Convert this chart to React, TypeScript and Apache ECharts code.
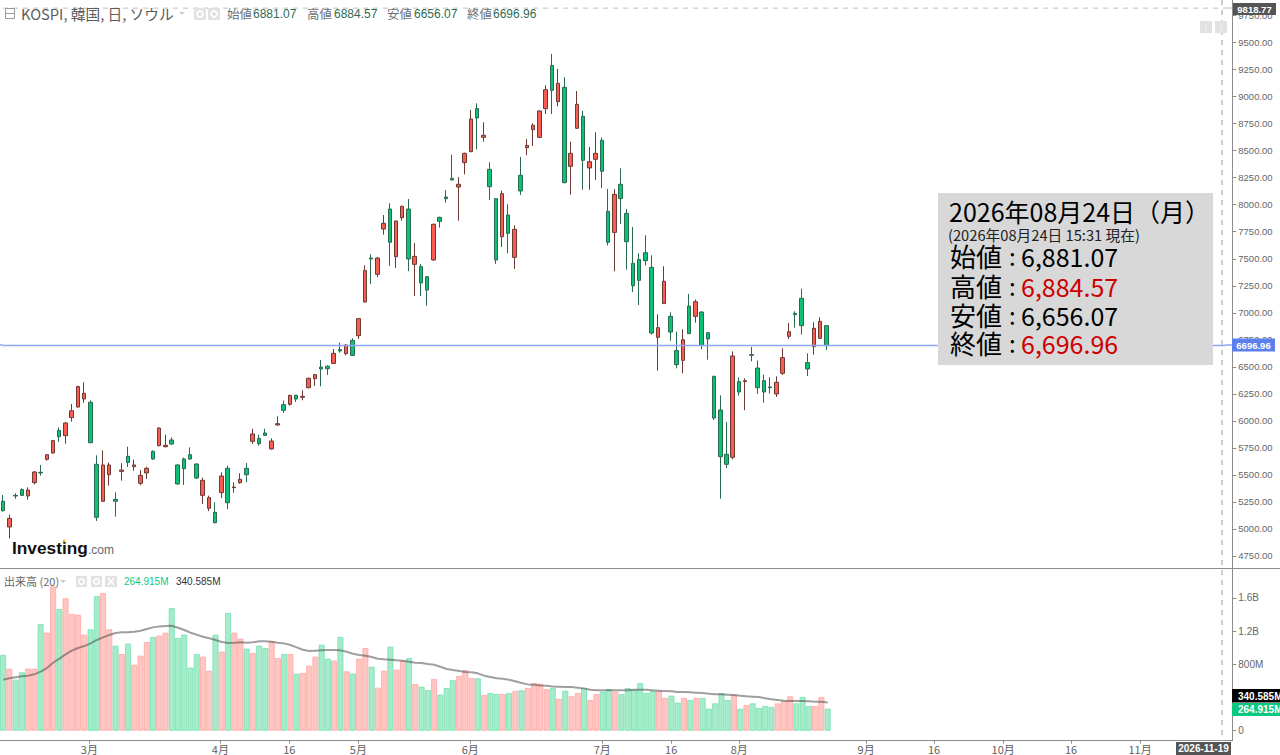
import React, { useEffect, useRef } from "react";
import * as echarts from "echarts";

const opens = [5256,5018,5311,5364,5305,5428,5524,5644,5703,5912,5863,6030,6128,6202,6172,5598,5256,5502,5274,5533,5672,5576,5422,5518,5718,5771,5761,5823,5592,5647,5687,5601,5311,5191,5154,5336,5561,5382,5428,5561,5811,5838,5888,5740,5962,6150,6153,6236,6218,6307,6391,6498,6505,6532,6659,6622,6745,6788,7100,7507,7356,7775,7960,7519,7880,7960,7448,7427,7334,7489,7883,8071,8244,8164,8389,8491,8889,8623,8327,8056,7704,7905,7513,8272,8528,8694,8623,8889,9287,8954,9086,8355,8707,8818,8340,8420,8596,7939,7744,8189,7920,7458,7492,7556,7421,6773,7085,6967,6650,6560,7063,6967,7007,6816,6412,6101,5691,5663,6363,6363,6613,6489,6372,6314,6249,6440,6782,6995,7134,6539,6687,6764,6881.07];
const closes = [5169,5098,5305,5311,5360,5527,5518,5687,5817,5854,5980,6094,6317,6255,5798,5108,5592,5592,5256,5545,5616,5592,5496,5561,5647,5934,5774,5786,5416,5558,5647,5472,5450,5290,5058,5490,5243,5388,5459,5502,5879,5789,5866,5814,5974,6098,6236,6202,6227,6394,6428,6480,6483,6625,6647,6702,6606,6946,7390,7498,7507,7828,7652,7849,7985,7498,7522,7276,7211,7819,7846,8056,8229,8189,8475,8793,8802,8642,8167,7489,8102,7735,7772,8127,8549,8735,8867,9064,9058,9123,8204,8475,8929,8411,8398,8475,8309,7652,8096,8056,7658,7251,7300,7482,6813,6862,7291,6822,6520,6751,6807,7103,6699,6758,6027,5669,5598,6600,6267,6372,6607,6307,6267,6307,6357,6585,6825,6983,6881,6480,6856,6921,6696.96];
const lows = [5160,4913,5280,5305,5271,5413,5493,5632,5697,5805,5789,5993,6122,6168,5792,5074,5249,5401,5114,5447,5573,5539,5404,5462,5641,5764,5755,5777,5410,5407,5641,5462,5231,5166,5052,5286,5182,5336,5419,5434,5786,5771,5860,5734,5956,6073,6141,6175,6190,6301,6323,6320,6425,6529,6631,6606,6600,6758,7094,7266,7328,7723,7433,7415,7852,7384,7155,7155,7066,7482,7788,8019,8226,7852,8281,8485,8512,8583,8044,7452,7609,7550,7405,8090,8457,8543,8617,8839,8839,8910,8198,8093,8701,8139,8139,8229,8155,7624,7384,7822,7399,7192,7072,7439,6798,6465,7082,6742,6486,6440,6804,6909,6662,6566,6008,5280,5564,5644,6233,6098,6551,6249,6169,6252,6221,6425,6758,6862,6798,6415,6613,6758,6656.07];
const highs = [5314,5132,5330,5376,5385,5536,5592,5694,5823,5940,5990,6156,6326,6357,6190,5681,5727,5616,5339,5607,5761,5641,5545,5576,5727,5940,5872,5848,5598,5660,5755,5607,5475,5308,5246,5524,5586,5431,5515,5610,5928,5872,5928,5838,6042,6187,6242,6242,6283,6400,6434,6563,6514,6665,6724,6711,6764,6952,7439,7541,7516,7905,8013,7856,7991,8053,7646,7452,7340,7825,7889,8136,8463,8256,8482,8876,8938,8762,8392,8062,8130,8004,7809,8442,8608,8753,8873,9105,9395,9256,9179,8583,9052,8867,8534,8670,8623,8145,8145,8337,7960,7794,7550,7717,7532,6986,7430,7004,6826,6847,7174,7122,7014,6822,6418,6236,5990,6643,6403,6394,6684,6560,6428,6403,6412,6671,6906,7014,7223,6625,6912,6958,6884.57];
const volumes = [912,747,615,703,747,747,1285,1181,1739,1466,1595,1406,1398,1157,1221,1623,1659,1221,1024,924,1048,795,904,1069,1129,1145,1181,1478,1117,1157,759,924,892,723,1157,952,1418,1181,1109,988,936,1024,996,1077,876,924,924,687,695,783,892,1036,868,844,1129,715,687,868,996,771,518,723,1012,735,844,876,562,530,490,623,434,514,611,659,731,635,631,430,454,442,442,454,478,486,514,574,566,502,514,382,482,414,454,510,370,442,470,502,470,442,514,494,574,454,478,478,394,422,337,394,370,394,394,265,329,450,370,430,265,309,329,273,297,285,329,358,414,329,406,297,297,406,264.915];
const volumeMA = [615,631,643,655,663,679,711,755,819,868,920,964,996,1020,1052,1093,1125,1153,1177,1185,1185,1193,1205,1225,1245,1257,1261,1265,1241,1213,1181,1157,1133,1113,1093,1069,1056,1060,1065,1060,1065,1077,1077,1073,1060,1052,1032,1004,976,960,964,968,972,972,968,952,928,912,904,888,868,860,856,848,844,832,819,815,803,795,771,743,731,719,707,703,691,663,647,631,627,615,595,574,558,554,546,542,534,530,526,526,518,510,494,486,486,486,486,486,486,494,494,494,486,482,478,474,466,466,462,458,454,446,438,438,434,430,422,414,410,406,390,378,370,362,358,358,358,354,349,349,340.585];

const categories = Array.from({ length: 197 }, (_, i) => String(i));
const priceTicks = [4750,5000,5250,5500,5750,6000,6250,6500,6750,7000,7250,7500,7750,8000,8250,8500,8750,9000,9250,9500,9750];
const volumeTicks = [0,800,1200,1600];
const xTickValues = [13.81,34.78,45.82,56.87,74.79,95.92,106.96,117.85,138.17,149.05,160.1,170.98,182.03];
const xTickLabels = ["3月","4月","16","5月","6月","7月","16","8月","9月","16","10月","16","11月"];

const LAST_PRICE = 6696.96;
const HIGH_MARK = 9818.77;
const SANS = "'Liberation Sans','Noto Sans CJK JP',sans-serif";
const JP = "'Noto Sans CJK JP','Liberation Sans',sans-serif";
const RED = "#f85d52", GREEN = "#0cc074";

function txt(x: number, y: number, text: string, fontSize: number, fill: string, extra: any = {}) {
  return {
    type: "text", x, y, z: 100, silent: true,
    style: {
      text, fontSize, fill, fontFamily: extra.family || SANS, fontWeight: extra.weight || "normal",
      align: extra.align || "left", verticalAlign: "middle",
      textAlign: extra.align || "left", textVerticalAlign: "middle",
    },
  };
}
function box(x: number, y: number, w: number, h: number, fill: string, z = 100) {
  return { type: "rect", z, silent: true, shape: { x, y, width: w, height: h }, style: { fill } };
}
function hv(x1: number, y1: number, x2: number, y2: number, stroke: string, lineWidth = 1, lineDash?: number[]) {
  return { type: "line", z: 90, silent: true, shape: { x1, y1, x2, y2 }, style: { stroke, lineWidth, lineDash } };
}
function iconBox(x: number, y: number, s: number) {
  return [
    box(x, y, s, s, "#e2e2e2"),
    { type: "ring", z: 101, silent: true, shape: { cx: x + s / 2, cy: y + s / 2, r: s * 0.32, r0: s * 0.17 }, style: { fill: "#fff" } },
  ];
}
function levelSeries(value: number, color: string, dash: any, width: number) {
  return {
    type: "line", xAxisIndex: 0, yAxisIndex: 0, data: categories.map(() => value), symbol: "none", showSymbol: false, silent: true,
    itemStyle: { color }, color,
    lineStyle: { color, type: dash, width },
  };
}

export default function App() {
  const ref = useRef<HTMLDivElement>(null);
  useEffect(() => {
    document.body.style.margin = "0";
    const chart = echarts.init(ref.current!, undefined, { renderer: "svg" });
    const isUp = (i: number) => closes[i] > opens[i];
    const graphic: any[] = [
      // panes
      hv(0, 568.5, 1280, 568.5, "#8c8c8c", 1),
      hv(0, 740.5, 1232, 740.5, "#8c8c8c", 1),
      hv(1222, 0, 1222, 741, "#bdbdbd", 1.5, [5, 5]),
      hv(1225, 8, 1232, 8, "#bdbdbd", 1),
      hv(0, 345, 3, 345, "#8ea6f8", 1.5),
      hv(1225, 345, 1232, 345, "#8ea6f8", 1.5),
      // top legend
      { type: "rect", z: 100, silent: true, shape: { x: 5.5, y: 8.5, width: 9, height: 10 }, style: { fill: "none", stroke: "#999" } },
      hv(6, 13.5, 14, 13.5, "#999", 1),
      txt(21, 13, "KOSPI, 韓国, 日, ソウル", 14.7, "#5c5c5c", { family: JP }),
      { type: "polygon", z: 100, silent: true, shape: { points: [[179, 12], [185, 12], [182, 15]] }, style: { fill: "#ccc" } },
      ...iconBox(194, 8, 12),
      ...iconBox(208, 8, 12),
      txt(227, 13.5, "始値", 12.5, "#707070", { family: JP }),
      txt(253, 14, "6881.07", 12, "#2f6b50"),
      txt(307, 13.5, "高値", 12.5, "#707070", { family: JP }),
      txt(334, 14, "6884.57", 12, "#2f6b50"),
      txt(387, 13.5, "安値", 12.5, "#707070", { family: JP }),
      txt(414, 14, "6656.07", 12, "#2f6b50"),
      txt(467, 13.5, "終値", 12.5, "#707070", { family: JP }),
      txt(493, 14, "6696.96", 12, "#2f6b50"),
      // up / down buttons
      box(1200, 21, 12, 12, "#e2e2e2"),
      txt(1206, 27, "↓", 10, "#fff", { align: "center", weight: "bold" }),
      box(1215, 21, 12, 12, "#e2e2e2"),
      txt(1221, 27, "↑", 10, "#fff", { align: "center", weight: "bold" }),
      // logo
      txt(12, 548, "Investing", 17.3, "#111", { weight: "bold" }),
      txt(88, 549.5, ".com", 12, "#666"),
      { type: "circle", z: 101, silent: true, shape: { cx: 64, cy: 541, r: 1.3 }, style: { fill: "#f5a623" } },
      // volume legend
      txt(4, 581, "出来高 (20)", 11, "#666", { family: JP }),
      { type: "polygon", z: 100, silent: true, shape: { points: [[60, 580], [66, 580], [63, 583]] }, style: { fill: "#ccc" } },
      ...iconBox(76, 576, 11),
      ...iconBox(91, 576, 11),
      box(105, 576, 12, 11, "#e2e2e2"),
      { type: "line", z: 101, silent: true, shape: { x1: 108, y1: 578, x2: 114, y2: 585 }, style: { stroke: "#fff", lineWidth: 1.5 } },
      { type: "line", z: 101, silent: true, shape: { x1: 114, y1: 578, x2: 108, y2: 585 }, style: { stroke: "#fff", lineWidth: 1.5 } },
      txt(124, 581, "264.915M", 10, "#12c77f"),
      txt(176, 581, "340.585M", 10, "#333"),
      // axis tags
      box(1233, 3, 43, 12, "#555"),
      txt(1254.5, 9, "9818.77", 9.5, "#fff", { align: "center", weight: "bold" }),
      box(1232, 338.5, 43, 13, "#5b80ee"),
      txt(1253.5, 345, "6696.96", 9.5, "#fff", { align: "center", weight: "bold" }),
      box(1232, 689, 48, 13.5, "#000"),
      txt(1238, 696, "340.585M", 10, "#fff", { weight: "bold" }),
      box(1232, 703, 48, 13, "#0cc77e"),
      txt(1238, 709.5, "264.915M", 10, "#fff", { weight: "bold" }),
      box(1176, 742, 55, 13, "#555"),
      txt(1203.5, 748.5, "2026-11-19", 10, "#fff", { align: "center", weight: "bold" }),
      // quote panel
      box(938, 193, 275, 172, "#d8d8d8"),
      txt(949, 211, "2026年08月24日（月）", 25, "#000", { family: JP }),
      txt(948, 234, "(2026年08月24日 15:31 現在)", 14.7, "#222", { family: JP }),
      txt(950, 255.5, "始値", 26, "#000", { family: JP }),
      txt(1009, 255.5, ":", 24, "#000", { family: JP }),
      txt(1021, 255.5, "6,881.07", 25, "#000", { family: JP }),
      txt(950, 285.5, "高値", 26, "#000", { family: JP }),
      txt(1009, 285.5, ":", 24, "#000", { family: JP }),
      txt(1021, 285.5, "6,884.57", 25, "#cc0000", { family: JP }),
      txt(950, 314.5, "安値", 26, "#000", { family: JP }),
      txt(1009, 314.5, ":", 24, "#000", { family: JP }),
      txt(1021, 314.5, "6,656.07", 25, "#000", { family: JP }),
      txt(950, 342.5, "終値", 26, "#000", { family: JP }),
      txt(1009, 342.5, ":", 24, "#000", { family: JP }),
      txt(1021, 342.5, "6,696.96", 25, "#cc0000", { family: JP }),
    ];
    chart.setOption({
      animation: false,
      backgroundColor: "#fff",
      grid: [
        { left: -2.4, top: 0, width: 1230.9, height: 568 },
        { left: -0.4, top: 569, width: 1230.9, height: 171.7 },
      ],
      xAxis: [
        { type: "category", gridIndex: 0, data: categories, axisLine: { show: false }, axisTick: { show: false }, axisLabel: { show: false }, splitLine: { show: false } },
        { type: "category", gridIndex: 1, data: categories, axisLine: { show: false }, axisTick: { show: false }, axisLabel: { show: false }, splitLine: { show: false } },
        {
          type: "value", gridIndex: 1, position: "bottom", min: -0.5, max: 196.5,
          axisLine: { show: false }, splitLine: { show: false },
          axisTick: { show: true, customValues: xTickValues, length: 3, lineStyle: { color: "#8c8c8c" } },
          axisLabel: {
            show: true, customValues: xTickValues, margin: 3, fontSize: 11, lineHeight: 11, color: "#5f5f5f", fontFamily: JP,
            formatter: (v: number) => {
              let best = 0;
              xTickValues.forEach((t, i) => { if (Math.abs(t - v) < Math.abs(xTickValues[best] - v)) best = i; });
              return xTickLabels[best];
            },
          },
        },
      ],
      yAxis: [
        {
          type: "value", gridIndex: 0, position: "right", offset: 3.8, min: 4638.8, max: 9894,
          axisLine: { show: true, onZero: false, lineStyle: { color: "#8c8c8c" } },
          splitLine: { show: false },
          axisTick: { show: true, customValues: priceTicks, length: 4, lineStyle: { color: "#8c8c8c" } },
          axisLabel: { show: true, customValues: priceTicks, margin: 6, fontSize: 9.5, color: "#666", fontFamily: SANS, formatter: (v: number) => v.toFixed(2) },
        },
        {
          type: "value", gridIndex: 1, position: "right", offset: 1.8, min: -120.5, max: 1948.5,
          axisLine: { show: true, onZero: false, lineStyle: { color: "#8c8c8c" } },
          splitLine: { show: false },
          axisTick: { show: true, customValues: volumeTicks, length: 4, lineStyle: { color: "#8c8c8c" } },
          axisLabel: {
            show: true, customValues: volumeTicks, margin: 6, fontSize: 10, color: "#666", fontFamily: SANS,
            formatter: (v: number) => (v === 0 ? "0" : v >= 1000 ? `${(v / 1000).toFixed(1)}B` : `${v}M`),
          },
        },
      ],
      series: [
        levelSeries(LAST_PRICE, "#8ea6f8", "solid", 1.5),
        levelSeries(HIGH_MARK, "#bdbdbd", [5, 5], 1),
        {
          type: "candlestick", xAxisIndex: 0, yAxisIndex: 0, barWidth: 4,
          data: opens.map((o, i) => [o, closes[i], lows[i], highs[i]]),
          itemStyle: { color: RED, color0: GREEN, borderColor: "#6d3a33", borderColor0: "#2a6a50", borderWidth: 1 },
        },
        {
          type: "bar", xAxisIndex: 1, yAxisIndex: 1, barWidth: 5.9, barGap: "0%",
          data: volumes.map((v, i) => ({
            value: v,
            itemStyle: isUp(i)
              ? { color: "#ffc6c3", borderColor: "#ffa8a3", borderWidth: 0.8 }
              : { color: "#a6ebca", borderColor: "#74e1b1", borderWidth: 0.8 },
          })),
        },
        {
          type: "line", xAxisIndex: 1, yAxisIndex: 1, data: volumeMA, showSymbol: false, symbol: "none", z: 5,
          lineStyle: { color: "rgba(80,80,80,0.55)", width: 2 },
        },
      ],
      graphic,
    });
    return () => chart.dispose();
  }, []);
  return <div ref={ref} style={{ position: "fixed", left: 0, top: 0, width: 1280, height: 755 }} />;
}
